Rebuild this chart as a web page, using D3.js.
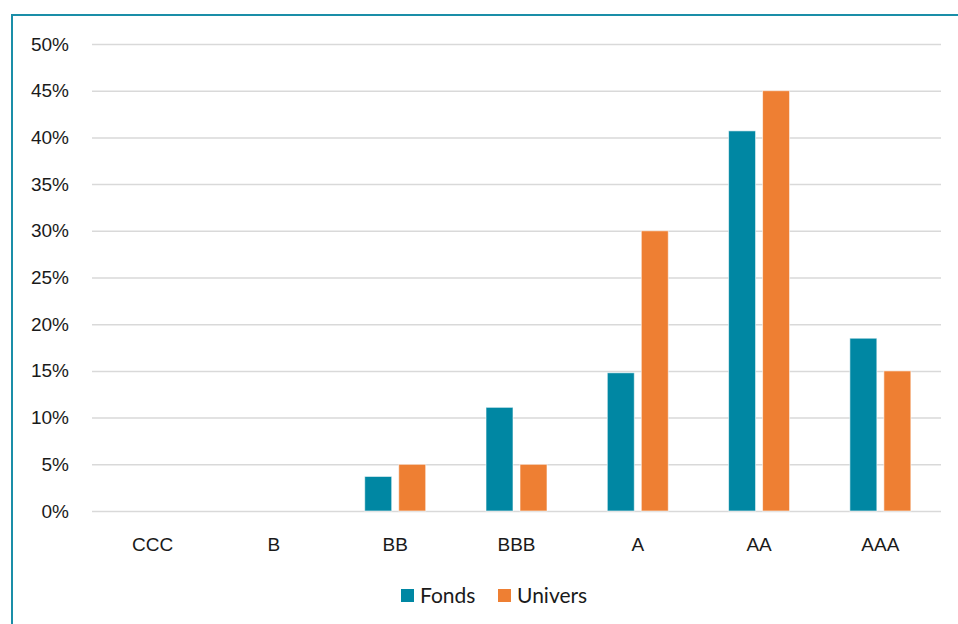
<!DOCTYPE html>
<html>
<head>
<meta charset="utf-8">
<script src="https://cdn.jsdelivr.net/npm/d3@7"></script>
<style>
  body { margin: 0; background: #fff; }
  svg { display: block; font-family: "Lato", "Open Sans", sans-serif; }
</style>
</head>
<body>
<div id="chart"></div>
<script>
// ratings and weights (%)
const categories = ["CCC", "B", "BB", "BBB", "A", "AA", "AAA"];
const seriesNames = ["Fonds", "Univers"];
const fonds = [0, 0, 3.7, 11.1, 14.8, 40.7, 18.5];
const univers = [0, 0, 5, 5, 30, 45, 15];
const yTicks = [0, 5, 10, 15, 20, 25, 30, 35, 40, 45, 50];

const colors = {Fonds: "#0087a3", Univers: "#ee7f33"};

const W = 958, H = 624;
const margin = {top: 44, right: 17, bottom: 113, left: 92};
const width = W - margin.left - margin.right,
      height = H - margin.top - margin.bottom;

const svg = d3.select("#chart").append("svg")
    .attr("width", W)
    .attr("height", H);

// frame, runs off the right and bottom edge like the original
svg.append("rect")
    .attr("x", 12).attr("y", 15)
    .attr("width", W + 10).attr("height", H + 10)
    .attr("fill", "none")
    .attr("stroke", "#1a8ea8")
    .attr("stroke-width", 2);

const g = svg.append("g")
    .attr("transform", "translate(" + margin.left + "," + margin.top + ")");

const x = d3.scaleBand()
    .domain(categories)
    .range([0, width]);

const y = d3.scaleLinear()
    .domain([0, 50])
    .range([height, 0]);

// gridlines + y labels
g.append("g")
    .call(d3.axisLeft(y).tickValues(yTicks).tickSize(-width).tickFormat(d => d + "%"))
    .call(ax => ax.select(".domain").remove())
    .call(ax => ax.selectAll("line").attr("stroke", "#d9d9d9").attr("stroke-width", 1.5))
    .call(ax => ax.selectAll("text")
        .attr("x", -23)
        .attr("fill", "#1a1a1a")
        .style("font-size", "19px"));

// x labels
g.append("g")
    .attr("transform", "translate(0," + height + ")")
    .call(d3.axisBottom(x).tickSize(0).tickPadding(27))
    .call(ax => ax.select(".domain").remove())
    .call(ax => ax.selectAll("text")
        .attr("fill", "#1a1a1a")
        .style("font-size", "19px"));

const barW = 27, gap = 7;
const data = categories.map((c, i) => ({cat: c, values: [
    {name: "Fonds", value: fonds[i]},
    {name: "Univers", value: univers[i]}
]}));

const groups = g.selectAll(".cat")
    .data(data)
    .enter()
    .append("g")
    .attr("transform", d => "translate(" + (x(d.cat) + x.bandwidth() / 2) + ",0)");

groups.selectAll("rect")
    .data(d => d.values.filter(v => v.value > 0))
    .enter()
    .append("rect")
    .attr("x", d => d.name === "Fonds" ? -barW - gap / 2 : gap / 2)
    .attr("y", d => y(d.value))
    .attr("width", barW)
    .attr("height", d => height - y(d.value))
    .attr("fill", d => colors[d.name])
    .attr("stroke", "#ffffff")
    .attr("stroke-opacity", 0.6)
    .attr("stroke-width", 1);

// legend
const legendX = [401, 498];
const legend = svg.selectAll(".legend")
    .data(seriesNames)
    .enter()
    .append("g")
    .attr("transform", (d, i) => "translate(" + legendX[i] + ",589)");

legend.append("rect")
    .attr("width", 13).attr("height", 13)
    .attr("fill", d => colors[d]);

legend.append("text")
    .attr("x", 19)
    .attr("y", 14)
    .attr("fill", "#1a1a1a")
    .style("font-size", "21px")
    .text(d => d);
</script>
</body>
</html>
